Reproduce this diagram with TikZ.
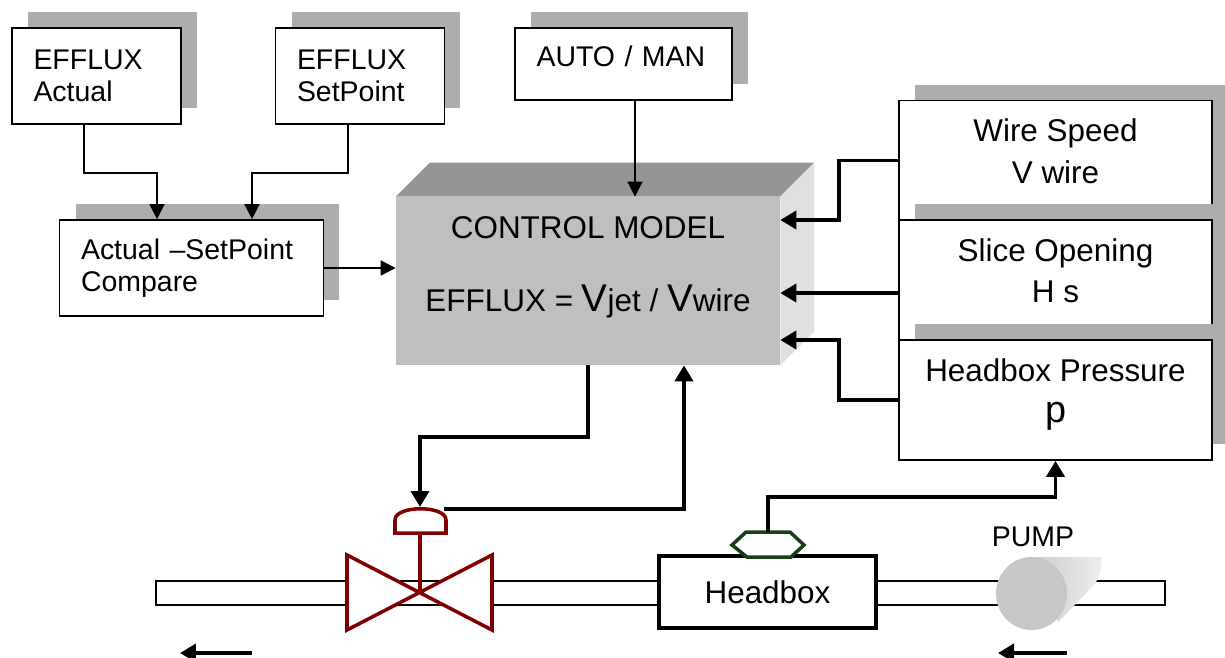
\documentclass[tikz,border=0pt]{standalone}
\usepackage{fontspec}
\setmainfont{Liberation Sans}
\usetikzlibrary{arrows.meta, shadows, positioning}

\definecolor{valvered}{RGB}{128,0,0}
\definecolor{sensgreen}{RGB}{24,64,24}
\newcommand{\bigV}{{\fontsize{22}{22}\selectfont V}}

\tikzset{
  boxshadow/.style={general shadow={shadow xshift=0.32cm, shadow yshift=0.32cm, fill=black!32, draw=none}},
  inbox/.style={draw, fill=white, line width=1pt, align=left, inner xsep=0.43cm, boxshadow,
    font=\fontsize{16.2}{18.1}\selectfont},
  sensebox/.style={draw, fill=white, line width=1pt, align=center, boxshadow,
    minimum width=6.26cm, minimum height=2.4cm, text depth=0.38cm,
    font=\fontsize{17.9}{23.5}\selectfont},
  modelbox/.style={fill=black!25, align=center, font=\fontsize{17.9}{41.4}\selectfont},
  hbox/.style={draw, fill=white, line width=2pt, minimum width=4.34cm, minimum height=1.44cm,
    font=\fontsize{17.9}{19.5}\selectfont},
  pipe/.style={draw, fill=white, line width=0.8pt},
  feed/.style={line width=0.85pt, -{Triangle[length=0.3cm, width=0.3cm]}},
  signal/.style={line width=2.2pt, -{Triangle[length=0.32cm, width=0.36cm]}}
}

\begin{document}
\begin{tikzpicture}[x=0.02cm, y=-0.02cm]
  \useasboundingbox (0,0) rectangle (1225,657);

  \node (actual) [inbox, text width=2.52cm, minimum height=1.92cm] at (96.5,76) {EFFLUX\\Actual};
  \node (setpoint) [inbox, text width=2.52cm, minimum height=1.92cm] at (360,76) {EFFLUX\\SetPoint};
  \node (compare) [inbox, text width=4.42cm, minimum height=1.92cm] at (191.5,268) {Actual –SetPoint\\Compare};
  \node (auto) [inbox, text width=3.48cm, minimum height=1.44cm, text depth=0.3cm] at (623.5,64) {AUTO / MAN};

  \node (model) [modelbox, minimum width=7.68cm, minimum height=3.36cm, text depth=0.68cm] at (588,281)
    {CONTROL MODEL\\EFFLUX = \bigV jet / \bigV wire};
  \fill [black!41] (model.north west) -- ++(34,-34) -- ([shift={(34,-34)}]model.north east)
    -- (model.north east) -- cycle;
  \fill [black!12] (model.north east) -- ++(34,-34) -- ([shift={(34,-34)}]model.south east)
    -- (model.south east) -- cycle;

  \node (wire) [sensebox] at (1055.5,160.5) {Wire Speed\\V wire};
  \node (slice) [sensebox] at (1055.5,280) {Slice Opening\\H s};
  \node (press) [sensebox] at (1055.5,400) {Headbox Pressure\\{\fontsize{21.5}{23.5}\selectfont p}};

  \draw [pipe] (156,581) rectangle (1165,605);

  \draw [valvered, line width=2pt, fill=white] (347,555) -- (347,630) -- (492,555) -- (492,630) -- cycle;
  \draw [valvered, line width=2pt] (420,593) -- (420,533);
  \draw [valvered, line width=2pt, fill=white] (395,533) -- (395,520) .. controls (395,505) and (446,505) .. (446,520)
    -- (446,533) -- cycle;
  \coordinate (act) at (420,507);
  \coordinate (actR) at (444,509);

  \node (headbox) [hbox] at (767.5,592) {Headbox};
  \draw [sensgreen, line width=2pt, fill=white] (732,545) -- (746,532) -- (790,532) -- (804,545)
    -- (791,557) -- (747,557) -- cycle;
  \coordinate (sensor) at (768,532);

  \node (pumplabel) [font=\fontsize{16.2}{18}\selectfont] at (1033,537) {PUMP};
  \shade [left color=black!20, right color=black!7] (1031,557) -- (1102,557)
    .. controls (1102,570) and (1099,579) .. (1093,586) -- (1058,622) -- cycle;
  \fill [black!22] (1031.5,593.5) ellipse [x radius=35.5, y radius=36.5];

  \draw [feed] ([xshift=-0.25cm]actual.south) -- ++(0,48) -| ([xshift=-0.69cm]compare.north);
  \draw [feed] ([xshift=-0.24cm]setpoint.south) -- ++(0,48) -| ([xshift=1.21cm]compare.north);
  \draw [feed] (compare.east) -- (compare.east -| model.west);
  \draw [feed] ([xshift=0.23cm]auto.south) -- ([xshift=0.23cm]auto.south |- model.north);

  \draw [signal] (wire.west) -- ++(-59,0) |- ([yshift=1.22cm]model.east);
  \draw [signal] ([yshift=-0.24cm]model.east -| slice.west) -- ([yshift=-0.24cm]model.east);
  \draw [signal] (press.west) -- ++(-59,0) |- ([yshift=-1.18cm]model.east);

  \draw [signal] (model.south) -- ++(0,72) -| (act);
  \draw [signal] (actR) -| ([xshift=1.92cm]model.south);
  \draw [signal] (sensor) -- ++(0,-35) -| (press.south);

  \coordinate (flowLa) at (252,653);
  \coordinate (flowLb) at (180,653);
  \coordinate (flowRa) at (1067,653);
  \coordinate (flowRb) at (998,653);
  \draw [signal] (flowLa) -- (flowLb);
  \draw [signal] (flowRa) -- (flowRb);
\end{tikzpicture}
\end{document}
